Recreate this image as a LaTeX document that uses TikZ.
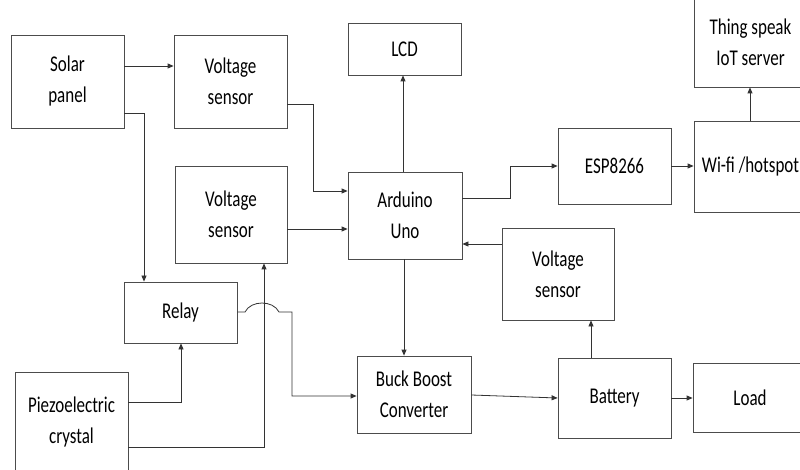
\documentclass[tikz,border=0pt]{standalone}
\usepackage{fontspec}
\setmainfont{Carlito}[FakeStretch=0.755]
\usetikzlibrary{arrows.meta}
\begin{document}
\begin{tikzpicture}[x=1pt,y=-1pt,
  blk/.style={draw=black!70, line width=0.8pt, inner sep=0pt, align=center,
    text=black, font=\fontsize{22.5}{31}\selectfont},
  arr/.style={draw=black!80, line width=0.8pt, -{Triangle[length=6pt,width=5pt]}},
  ln/.style={draw=black!80, line width=0.8pt}]
\useasboundingbox (0,0) rectangle (800,470);
\clip (0,0) rectangle (800,470);
\node[blk, minimum width=113pt, minimum height=93pt] (solar) at (67.5,81.5) {Solar\\panel};
\node[blk, minimum width=113pt, minimum height=93pt] (vs1) at (230.5,81.5) {Voltage\\sensor};
\node[blk, minimum width=113pt, minimum height=52pt] (lcd) at (404.5,49) {LCD};
\node[blk, minimum width=112pt, minimum height=97pt] (vs2) at (231,214.5) {Voltage\\sensor};
\node[blk, minimum width=114pt, minimum height=87pt] (ard) at (405,215.5) {Arduino\\Uno};
\node[blk, minimum width=113pt, minimum height=76pt] (esp) at (614.5,166) {ESP8266};
\node[blk, minimum width=113pt, minimum height=91pt] (wifi) at (750.5,166.5) {Wi-fi /hotspot};
\node[blk, minimum width=113pt, minimum height=90pt] (thing) at (750.5,42) {Thing speak\\IoT server};
\node[blk, minimum width=113pt, minimum height=61pt] (relay) at (180.5,312.5) {Relay};
\node[blk, minimum width=113pt, minimum height=100pt] (piezo) at (71.5,422) {Piezoelectric\\crystal};
\node[blk, minimum width=114pt, minimum height=77pt] (buck) at (414,394.5) {Buck Boost\\Converter};
\node[blk, minimum width=112pt, minimum height=92pt] (vs3) at (558,274) {Voltage\\sensor};
\node[blk, minimum width=113pt, minimum height=80pt] (bat) at (614.5,398) {Battery};
\node[blk, minimum width=114pt, minimum height=69pt] (load) at (750,397.5) {Load};
% connectors
\draw[arr] (solar.east |- 0,66) -- (vs1.west |- 0,66);
\draw[arr] (solar.east |- 0,113) -| (144,0 |- relay.north);
\draw[arr] (vs1.east |- 0,104) -| (313,191) -- (ard.west |- 0,191);
\draw[arr] (vs2.east |- 0,229) -- (ard.west |- 0,229);
\draw[arr] (403,0 |- ard.north) -- (403,0 |- lcd.south);
\draw[arr] (ard.east |- 0,198) -| (510,166) -- (esp.west);
\draw[arr] (esp.east) -- (wifi.west |- esp.east);
\draw[arr] (750,0 |- wifi.north) -- (750,0 |- thing.south);
\draw[arr] (vs3.west |- 0,244) -- (ard.east |- 0,244);
\draw[arr] (404,0 |- ard.south) -- (404,0 |- buck.north);
\draw[arr] (591,0 |- bat.north) -- (591,0 |- vs3.south);
\draw[arr] (buck.east |- 0,395) -- (bat.west |- 0,398);
\draw[arr] (bat.east |- 0,398) -- (load.west |- 0,398);
\draw[arr] (piezo.east |- 0,402) -| (181,0 |- relay.south);
\draw[arr] (piezo.east |- 0,447) -| (264,0 |- vs2.south);
\draw[arr] (relay.east |- 0,312) -- (245,312) .. controls (251,300) and (273,300) .. (279,312)
  -- (292,312) -- (292,396) -- (buck.west |- 0,396);
\end{tikzpicture}
\end{document}
